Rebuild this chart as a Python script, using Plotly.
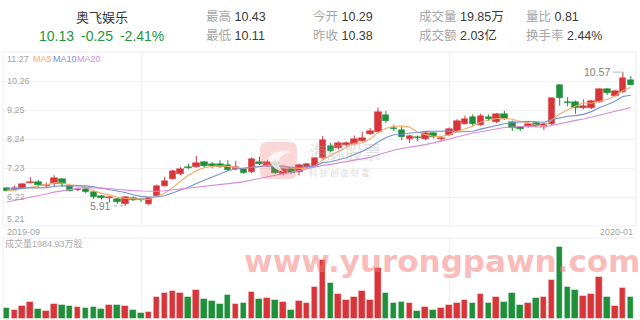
import plotly.graph_objects as go

# ---------------- data ----------------
x_labels = ["2019-09", "2020-01"]
price_ticks = [5.21, 6.22, 7.23, 8.24, 9.25, 10.26, 11.27]

open_ = [6.52, 6.47, 6.54, 6.72, 6.73, 6.62, 6.66, 6.83, 6.61, 6.47,
         6.50, 6.40, 6.27, 6.18, 6.15, 5.97, 6.20, 6.14, 5.97, 6.25,
         6.61, 6.86, 7.02, 7.27, 7.27, 7.43, 7.36, 7.37, 7.34, 7.20,
         7.19, 7.08, 7.45, 7.30, 7.45, 7.02, 7.19, 7.10, 7.27, 7.30,
         7.58, 7.99, 7.92, 8.03, 8.07, 8.18, 8.41, 8.49, 9.08, 8.64,
         8.55, 8.23, 8.31, 8.24, 8.44, 8.23, 8.38, 8.52, 8.78, 8.99,
         8.73, 9.02, 8.84, 9.10, 8.84, 8.67, 8.69, 8.79, 8.65, 8.76,
         10.12, 9.54, 9.54, 9.31, 9.31, 9.54, 9.98, 9.75, 9.89, 10.29]
high = [6.56, 6.61, 6.70, 6.91, 6.82, 6.72, 6.98, 6.87, 6.64, 6.55,
        6.52, 6.42, 6.29, 6.24, 6.21, 6.25, 6.25, 6.17, 6.20, 6.65,
        6.92, 7.16, 7.26, 7.38, 7.65, 7.47, 7.44, 7.50, 7.50, 7.48,
        7.22, 7.60, 7.62, 7.50, 7.55, 7.22, 7.23, 7.38, 7.40, 7.60,
        8.34, 8.10, 8.15, 8.15, 8.36, 8.49, 8.62, 9.33, 9.22, 8.74,
        8.68, 8.38, 8.36, 8.50, 8.48, 8.32, 8.64, 8.93, 9.05, 9.10,
        9.12, 9.10, 9.14, 9.22, 8.88, 8.70, 8.82, 8.83, 8.80, 9.68,
        10.15, 9.70, 9.58, 9.62, 9.60, 10.00, 10.02, 9.95, 10.57, 10.43]
low = [6.42, 6.45, 6.52, 6.70, 6.57, 6.55, 6.60, 6.56, 6.42, 6.43,
       6.36, 6.15, 6.13, 6.03, 5.98, 5.91, 6.08, 6.05, 5.94, 6.22,
       6.58, 6.83, 6.98, 7.19, 7.24, 7.25, 7.22, 7.24, 7.12, 7.15,
       7.03, 7.05, 7.33, 7.26, 7.03, 6.98, 7.03, 6.97, 7.22, 7.27,
       7.55, 7.78, 7.88, 7.98, 8.04, 8.15, 8.38, 8.45, 8.80, 8.52,
       8.20, 8.10, 8.17, 8.20, 8.26, 8.15, 8.34, 8.48, 8.75, 8.70,
       8.70, 8.86, 8.80, 8.91, 8.52, 8.52, 8.62, 8.66, 8.55, 8.72,
       9.40, 9.38, 9.12, 9.27, 9.28, 9.50, 9.78, 9.72, 9.85, 10.11]
close = [6.44, 6.52, 6.68, 6.74, 6.63, 6.64, 6.87, 6.66, 6.44, 6.50,
         6.38, 6.23, 6.18, 6.21, 6.04, 6.23, 6.12, 6.10, 6.18, 6.60,
         6.77, 7.12, 7.18, 7.22, 7.39, 7.30, 7.31, 7.27, 7.16, 7.25,
         7.07, 7.53, 7.37, 7.45, 7.07, 7.19, 7.07, 7.34, 7.36, 7.57,
         8.22, 7.83, 8.10, 8.09, 8.23, 8.28, 8.53, 9.17, 8.87, 8.58,
         8.30, 8.35, 8.27, 8.46, 8.30, 8.28, 8.58, 8.87, 8.93, 8.75,
         9.04, 8.94, 9.10, 8.95, 8.61, 8.59, 8.78, 8.71, 8.76, 9.66,
         9.66, 9.50, 9.31, 9.39, 9.57, 9.97, 9.83, 9.91, 10.38, 10.13]
prior_close = [5.48, 5.52, 5.55, 5.50, 5.58, 5.62, 5.60, 5.65, 5.70, 5.75,
               6.35, 6.52, 6.70, 6.62, 6.56, 6.48, 6.40, 6.47, 6.46]
# volume in 万股
volume = [976, 793, 1159, 1586, 885, 763, 1403, 1312, 1190, 1098,
          1037, 1129, 946, 1251, 1281, 1190, 793, 580, 610, 2044,
          2349, 2532, 2379, 2013, 2684, 1800, 1647, 1342, 2196, 1403,
          1464, 2471, 1830, 1952, 1708, 1525, 793, 1617, 1464, 2928,
          5399, 3325, 2318, 1708, 1983, 2593, 1708, 4636, 2349, 1495,
          1586, 1434, 763, 1098, 824, 976, 1312, 1495, 1708, 1464,
          2288, 1495, 1983, 1525, 2410, 1281, 1434, 1952, 2013, 3538,
          6619, 2898, 2654, 2105, 2288, 3874, 2013, 1220, 2806, 1985]
grid_idx = [17, 56]

stock_name = "奥飞娱乐"
last_price, change, change_pct = "10.13", "-0.25", "-2.41%"
stat_labels = ["最高", "最低", "今开", "昨收", "成交量", "成交额", "量比", "换手率"]
stat_values = ["10.43", "10.11", "10.29", "10.38", "19.85万", "2.03亿", "0.81", "2.44%"]
vol_label = "成交量1984.93万股"
ma_names = ["MA5", "MA10", "MA20"]
ma_periods = [5, 10, 20]

# ---------------- styles ----------------
W, H = 640, 320
RED, GREEN = "#d8353a", "#1f8f3a"
MA_COLORS = ["#f6a968", "#7590d4", "#d98bd9"]
CJK = "Noto Sans CJK SC"
LAT = "Liberation Sans, Noto Sans CJK SC"
GRID = "#f1f1f1"
SMALL = 9

def px(x):
    return x / W

def py(y):
    return 1 - y / H

n = len(close)
xs = list(range(n))

allc = prior_close + close
def moving_avg(p):
    k = len(prior_close)
    return [sum(allc[i - p + 1:i + 1]) / p for i in range(k, len(allc))]

up = [c >= o for o, c in zip(open_, close)]
ccol = [RED if u else GREEN for u in up]

fig = go.Figure()

# wicks
for flag, col in ((True, RED), (False, GREEN)):
    wx, wy = [], []
    for i in xs:
        if up[i] == flag:
            wx += [i, i, None]
            wy += [low[i], high[i], None]
    fig.add_trace(go.Scatter(x=wx, y=wy, mode="lines", line=dict(color=col, width=1),
                             showlegend=False, hoverinfo="skip", xaxis="x", yaxis="y"))

# bodies
body_base = [min(o, c) for o, c in zip(open_, close)]
body_len = [max(abs(c - o), 0.035) for o, c in zip(open_, close)]
fig.add_trace(go.Bar(x=xs, y=body_len, base=body_base, width=0.84,
                     marker=dict(color=ccol, line=dict(color=ccol, width=0.5)),
                     showlegend=False, hoverinfo="skip", xaxis="x", yaxis="y"))

for name, p, col in zip(ma_names, ma_periods, MA_COLORS):
    fig.add_trace(go.Scatter(x=xs, y=moving_avg(p), mode="lines",
                             line=dict(color=col, width=1.1),
                             showlegend=False, hoverinfo="skip",
                             xaxis="x", yaxis="y"))

fig.add_trace(go.Bar(x=xs, y=volume, width=0.84,
                     marker=dict(color=ccol, line=dict(color="rgba(255,255,255,0.45)", width=1)),
                     showlegend=False, hoverinfo="skip", xaxis="x", yaxis="y2"))

price_top, price_bot = 52, 226
vol_top, vol_bot = 238, 319
x_left, x_right = 2.75, 634.75

fig.update_layout(
    width=W, height=H, autosize=False,
    margin=dict(l=0, r=0, t=0, b=0),
    paper_bgcolor="white", plot_bgcolor="white",
    barmode="overlay", bargap=0,
    xaxis=dict(domain=[px(x_left), px(x_right)], range=[-0.5, n - 0.5],
               tickvals=grid_idx, showticklabels=False, showgrid=True,
               gridcolor=GRID, gridwidth=1, zeroline=False,
               fixedrange=True, anchor="y2"),
    yaxis=dict(domain=[py(price_bot), py(price_top)],
               range=[price_ticks[0], price_ticks[-1]], tickvals=price_ticks,
               showticklabels=False, showgrid=True, gridcolor=GRID, zeroline=False,
               anchor="x"),
    yaxis2=dict(domain=[py(vol_bot), py(vol_top)], range=[0, 7412],
                showticklabels=False, showgrid=False, zeroline=False, anchor="x"),
)

shapes = []
shapes.append(dict(type="rect", xref="paper", yref="paper",
                   x0=px(3), x1=px(636), y0=py(price_bot), y1=py(price_top),
                   line=dict(color="#ececec", width=1), layer="below"))
shapes.append(dict(type="line", xref="paper", yref="paper",
                   x0=px(3), x1=px(636), y0=py(vol_top), y1=py(vol_top),
                   line=dict(color="#ececec", width=1), layer="below"))
shapes.append(dict(type="line", xref="paper", yref="paper",
                   x0=px(3), x1=px(3), y0=py(vol_bot), y1=py(vol_top),
                   line=dict(color="#ececec", width=1), layer="below"))

def rrect(x0, y0, x1, y1, r):
    X = lambda v: px(v)
    Y = lambda v: py(v)
    return (f"M {X(x0+r)},{Y(y0)} L {X(x1-r)},{Y(y0)} Q {X(x1)},{Y(y0)} {X(x1)},{Y(y0+r)} "
            f"L {X(x1)},{Y(y1-r)} Q {X(x1)},{Y(y1)} {X(x1-r)},{Y(y1)} "
            f"L {X(x0+r)},{Y(y1)} Q {X(x0)},{Y(y1)} {X(x0)},{Y(y1-r)} "
            f"L {X(x0)},{Y(y0+r)} Q {X(x0)},{Y(y0)} {X(x0+r)},{Y(y0)} Z")
shapes.append(dict(type="path", xref="paper", yref="paper",
                   path=rrect(260, 142, 297, 179, 7),
                   fillcolor="rgba(240,110,110,0.28)", line=dict(width=0), layer="above"))
# white bird-like swoosh inside logo
bird = (f"M {px(268)},{py(158)} Q {px(278)},{py(147)} {px(291)},{py(152)} "
        f"Q {px(283)},{py(153)} {px(280)},{py(158)} Q {px(276)},{py(166)} {px(284)},{py(172)} "
        f"Q {px(272)},{py(170)} {px(268)},{py(158)} Z")
shapes.append(dict(type="path", xref="paper", yref="paper", path=bird,
                   fillcolor="rgba(255,255,255,0.75)", line=dict(width=0), layer="above"))

imin = min(range(n), key=lambda i: low[i])
imax = max(range(n), key=lambda i: high[i])
shapes.append(dict(type="line", xref="x", yref="y", x0=imin - 1.4, x1=imin,
                   y0=low[imin], y1=low[imin], line=dict(color="#aaaaaa", width=1, dash="dot")))
shapes.append(dict(type="line", xref="x", yref="y", x0=imax - 1.3, x1=imax,
                   y0=high[imax], y1=high[imax], line=dict(color="#bbbbbb", width=1)))

fig.update_layout(shapes=shapes)

ann = []
ann.append(dict(text=stock_name, x=px(101.5), y=py(17), xref="paper", yref="paper",
                xanchor="center", yanchor="middle", showarrow=False,
                font=dict(family=CJK, size=13, color="#333333")))
ann.append(dict(text=f"{last_price}\u2002{change}\u2002{change_pct}", x=px(101.5), y=py(35.5),
                xref="paper", yref="paper", xanchor="center", yanchor="middle", showarrow=False,
                font=dict(family=LAT, size=14, color="#22963c")))
cols = [204, 311, 417, 524]
rows = [17, 35.5]
for k, (lab, val) in enumerate(zip(stat_labels, stat_values)):
    cx = cols[k // 2]
    ry = rows[k % 2]
    ann.append(dict(text=f'<span style="color:#a6a6a6">{lab}</span> {val}',
                    x=px(cx), y=py(ry), xref="paper", yref="paper",
                    xanchor="left", yanchor="middle", showarrow=False,
                    font=dict(family=LAT, size=12.5, color="#3a3a3a")))

for j, t in enumerate(price_ticks):
    ya = "middle"
    if j == len(price_ticks) - 1:
        ya = "top"
    if j == 0:
        ya = "bottom"
    ann.append(dict(text=f"{t:.2f}", x=px(5), y=t, xref="paper", yref="y",
                    xanchor="left", yanchor=ya, showarrow=False,
                    font=dict(family=LAT, size=SMALL, color="#a3a3a3")))

leg_x = [31, 51, 75]
for name, col, lx in zip(ma_names, MA_COLORS, leg_x):
    ann.append(dict(text=name, x=px(lx), y=price_ticks[-1], xref="paper", yref="y",
                    xanchor="left", yanchor="top", showarrow=False,
                    font=dict(family=LAT, size=SMALL, color=col)))

ann.append(dict(text=x_labels[0], x=px(5), y=py(231.5), xref="paper", yref="paper",
                xanchor="left", yanchor="middle", showarrow=False,
                font=dict(family=LAT, size=SMALL, color="#a3a3a3")))
ann.append(dict(text=x_labels[1], x=px(635), y=py(231.5), xref="paper", yref="paper",
                xanchor="right", yanchor="middle", showarrow=False,
                font=dict(family=LAT, size=SMALL, color="#a3a3a3")))
ann.append(dict(text=vol_label, x=px(3), y=py(243.5), xref="paper", yref="paper",
                xanchor="left", yanchor="middle", showarrow=False,
                font=dict(family=LAT, size=SMALL, color="#ababab")))

ann.append(dict(text=f"{low[imin]:.2f}", x=imin - 1.5, y=low[imin], xref="x", yref="y",
                xanchor="right", yanchor="middle", showarrow=False,
                font=dict(family=LAT, size=10.5, color="#808080")))
ann.append(dict(text=f"{high[imax]:.2f}", x=imax - 1.35, y=high[imax], xref="x", yref="y",
                xanchor="right", yanchor="middle", showarrow=False,
                font=dict(family=LAT, size=10.5, color="#808080")))

ann.append(dict(text="海豚股票", x=px(307), y=py(151), xref="paper", yref="paper",
                xanchor="left", yanchor="middle", showarrow=False,
                font=dict(family=CJK, size=18, color="rgba(170,170,170,0.4)")))
ann.append(dict(text="科 技 创 造 财 富", x=px(307), y=py(172), xref="paper", yref="paper",
                xanchor="left", yanchor="middle", showarrow=False,
                font=dict(family=CJK, size=8.5, color="rgba(170,170,170,0.45)")))
ann.append(dict(text="www.yurongpawn.com", x=px(442), y=py(261), xref="paper", yref="paper",
                xanchor="center", yanchor="middle", showarrow=False,
                font=dict(family="DejaVu Sans", size=31, weight="bold",
                          color="rgba(246,120,120,0.5)")))

fig.update_layout(annotations=ann)

fig.write_html("out.html")
